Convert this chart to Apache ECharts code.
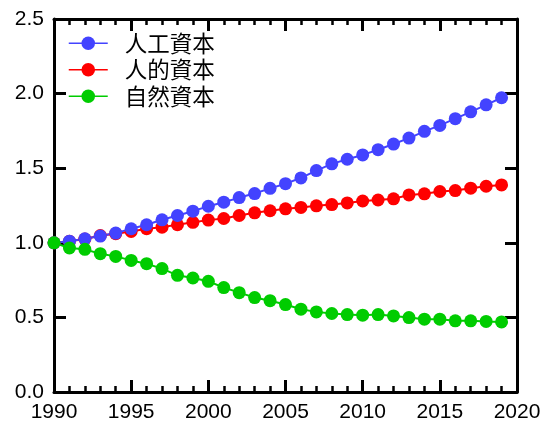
<!DOCTYPE html>
<html>
<head>
<meta charset="utf-8">
<script src="https://cdn.jsdelivr.net/npm/echarts@6/dist/echarts.min.js"></script>
<style>
html,body{margin:0;padding:0;background:#fff;}
#chart{width:547px;height:426px;}
</style>
</head>
<body>
<div id="chart"></div>
<script>
const years = [1990,1991,1992,1993,1994,1995,1996,1997,1998,1999,2000,2001,2002,2003,2004,2005,2006,2007,2008,2009,2010,2011,2012,2013,2014,2015,2016,2017,2018,2019];
const seriesNames = ['人工資本','人的資本','自然資本'];
const physical = [1.00,1.011,1.027,1.045,1.065,1.094,1.121,1.154,1.183,1.212,1.245,1.272,1.303,1.330,1.365,1.396,1.435,1.484,1.529,1.560,1.589,1.624,1.662,1.702,1.747,1.787,1.832,1.878,1.925,1.972];
const human = [1.00,1.01,1.025,1.049,1.061,1.076,1.094,1.105,1.121,1.137,1.152,1.163,1.183,1.201,1.215,1.228,1.237,1.248,1.256,1.267,1.280,1.287,1.295,1.321,1.328,1.344,1.350,1.366,1.379,1.388];
const natural = [1.00,0.965,0.956,0.927,0.909,0.882,0.860,0.827,0.782,0.764,0.742,0.700,0.666,0.633,0.612,0.586,0.555,0.537,0.526,0.519,0.515,0.519,0.510,0.499,0.488,0.488,0.477,0.477,0.473,0.470];
const colors = ['#4343ff','#ff0000','#00cc00'];

const pair = arr => years.map((y,i)=>[y,arr[i]]);
const tickFont = {fontFamily:'Liberation Sans, Arial, sans-serif', fontSize:21, color:'#000'};
const axisLine = {show:true, onZero:false, lineStyle:{color:'#000', width:3}};

function mkSeries(name, data, color){
  return {
    name, type:'line', data: pair(data), xAxisIndex:0, yAxisIndex:0,
    symbol:'circle', symbolSize:13, showSymbol:true,
    lineStyle:{color, width:2}, itemStyle:{color},
    emphasis:{disabled:true}, animation:false
  };
}

const chart = echarts.init(document.getElementById('chart'), null, {renderer:'canvas'});
chart.setOption({
  animation:false,
  grid:{left:54, right:30, top:19, bottom:34, containLabel:false},
  legend:{
    data: seriesNames,
    orient:'vertical', left:68, top:32, padding:0,
    itemWidth:39, itemHeight:17, itemGap:4,
    lineStyle:{width:1.5},
    textStyle:{fontFamily:'Noto Sans CJK TC, Noto Sans CJK JP, sans-serif', fontSize:22.5, lineHeight:21, color:'#000', padding:[0,0,0,12]}
  },
  xAxis:[
    {type:'value', position:'bottom', min:1990, max:2020, interval:5,
     axisLine, axisTick:{show:true, inside:true, length:12, lineStyle:{width:3,color:'#000'}},
     minorTick:{show:true, splitNumber:5, length:6, lineStyle:{width:2.5,color:'#000'}},
     axisLabel:Object.assign({margin:10, formatter:v=>String(v)}, tickFont),
     splitLine:{show:false}, minorSplitLine:{show:false}},
    {type:'value', position:'top', min:1990, max:2020, interval:5,
     axisLine, axisTick:{show:true, inside:true, length:12, lineStyle:{width:3,color:'#000'}},
     minorTick:{show:true, splitNumber:5, length:6, lineStyle:{width:2.5,color:'#000'}},
     axisLabel:{show:false}, splitLine:{show:false}, minorSplitLine:{show:false}}
  ],
  yAxis:[
    {type:'value', position:'left', min:0, max:2.5, interval:0.5,
     axisLine, axisTick:{show:true, inside:true, length:12, lineStyle:{width:3,color:'#000'}},
     axisLabel:Object.assign({margin:10, formatter:v=>v.toFixed(1)}, tickFont),
     splitLine:{show:false}},
    {type:'value', position:'right', min:0, max:2.5, interval:0.5,
     axisLine, axisTick:{show:true, inside:true, length:12, lineStyle:{width:3,color:'#000'}},
     axisLabel:{show:false}, splitLine:{show:false}}
  ],
  series:[
    mkSeries(seriesNames[1], human, colors[1]),
    mkSeries(seriesNames[0], physical, colors[0]),
    mkSeries(seriesNames[2], natural, colors[2])
  ]
});
</script>
</body>
</html>
